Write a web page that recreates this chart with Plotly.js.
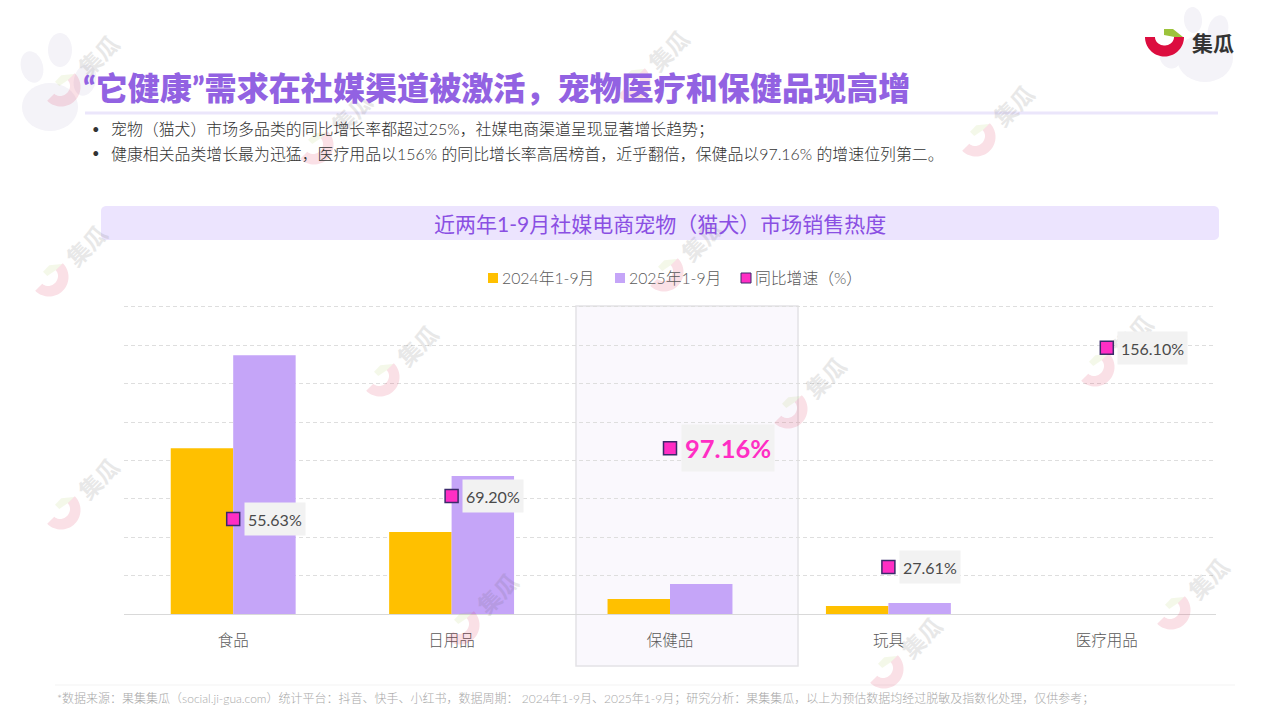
<!DOCTYPE html>
<html><head><meta charset="utf-8">
<script src="https://cdn.plot.ly/plotly-3.0.1.min.js"></script>
<style>html,body{margin:0;padding:0;background:#fff}#c{width:1280px;height:720px}</style>
</head><body><div id="c"></div>
<script>
var categories=["食品","日用品","保健品","玩具","医疗用品"];
var series2024=[4320,2135,390,208,0];
var series2025=[6745,3594,781,286,0];
var growth=[55.63,69.20,97.16,27.61,156.10];
var growthLabels=["55.63%","69.20%","97.16%","27.61%","156.10%"];
var names=["2024年1-9月","2025年1-9月","同比增速（%）"];
var titleText="“它健康”需求在社媒渠道被激活，宠物医疗和保健品现高增";
var bullets=["宠物（猫犬）市场多品类的同比增长率都超过25%，社媒电商渠道呈现显著增长趋势；","健康相关品类增长最为迅猛，医疗用品以156% 的同比增长率高居榜首，近乎翻倍，保健品以97.16% 的增速位列第二。"];
var chartTitle="近两年1-9月社媒电商宠物（猫犬）市场销售热度";
var sourceText="*数据来源：果集集瓜（social.ji-gua.com）统计平台：抖音、快手、小红书，数据周期： 2024年1-9月、2025年1-9月；研究分析：果集集瓜，以上为预估数据均经过脱敏及指数化处理，仅供参考；";
var FONT='Lato, "Noto Sans CJK SC", sans-serif', CJK='"Noto Sans CJK SC", sans-serif';
var L=124,R=1216,T=304,B=614;
function px(x){return (x-L)/(R-L);} function py(y){return (B-y)/(B-T);}
function pathOf(pts){return pts.map(function(p,i){return (i?'L':'M')+px(p[0]).toFixed(5)+','+py(p[1]).toFixed(5);}).join('')+'Z';}
function shapeOf(pts,fill,opacity,layer){return {type:'path',xref:'paper',yref:'paper',path:pathOf(pts),fillcolor:fill,line:{width:0},opacity:opacity==null?1:opacity,layer:layer||'above'};}
function ell(cx,cy,rx,ry,rot){var a=[],r=(rot||0)*Math.PI/180;for(var i=0;i<36;i++){var t=i*10*Math.PI/180,x=rx*Math.cos(t),y=ry*Math.sin(t);a.push([cx+x*Math.cos(r)-y*Math.sin(r),cy+x*Math.sin(r)+y*Math.cos(r)]);}return a;}
function rrect(x0,y0,x1,y1,r){var a=[];[[x1-r,y0+r,-90],[x1-r,y1-r,0],[x0+r,y1-r,90],[x0+r,y0+r,180]].forEach(function(c){for(var i=0;i<=6;i++){var t=(c[2]+15*i)*Math.PI/180;a.push([c[0]+r*Math.cos(t),c[1]+r*Math.sin(t)]);}});return a;}
function txt(x,y,text,size,color,anchor,extra){var a={xref:'paper',yref:'paper',x:px(x),y:py(y),text:text,showarrow:false,xanchor:anchor||'left',yanchor:'middle',font:{family:FONT,size:size,color:color}};for(var k in extra){a[k]=extra[k];}return a;}
// brand mark, drawn about its centre with optional rotation
function logo(cx,cy,rot,redOp,greenOp){
  var r=rot*Math.PI/180,red=[],i,t;
  function tr(p){return [cx+p[0]*Math.cos(r)-p[1]*Math.sin(r),cy+p[0]*Math.sin(r)+p[1]*Math.cos(r)];}
  for(i=0;i<=36;i++){t=i*5*Math.PI/180;red.push(tr([19.5*Math.cos(t),19.5*Math.sin(t)]));}
  for(i=36;i>=0;i--){t=i*5*Math.PI/180;red.push(tr([9.5*Math.cos(t),8.5*Math.sin(t)]));}
  var green=[[-0.5,-8],[8.5,-8],[18.5,0],[10,0],[-0.5,-2]].map(tr);
  return [shapeOf(red,'#dc0d3f',redOp),shapeOf(green,'#9cc33b',greenOp)];
}

var shapes=[],ann=[];
// paw prints behind the page
[[32,67,11,16,-15],[60,50,12,17,0],[85,80,11,16,15],[50,107,28,24,0],
 [1193,20,9,13,-5],[1218,30,10,15,15],[1205,58,28,24,0],[1170,57,10,12,-30]].forEach(function(e){shapes.push(shapeOf(ell(e[0],e[1],e[2],e[3],e[4]),'#f4f3f8',1,'below'));});
// highlight panel
shapes.push({type:'rect',xref:'paper',yref:'paper',x0:px(576),x1:px(798),y0:py(666),y1:py(306),fillcolor:'#faf8fd',line:{color:'#e4e2e6',width:1.5},layer:'below'});
// title rule, chart title band, footer rule
shapes.push(shapeOf([[85,111.5],[1218,111.5],[1218,114.5],[85,114.5]],'#ebe6fb',1,'below'));
shapes.push(shapeOf(rrect(101,206,1219,240,5),'#ece4fe',1,'below'));
shapes.push(shapeOf([[55,684.5],[1235,684.5],[1235,685.5],[55,685.5]],'#f3f3f3',1,'below'));
// logo
shapes=shapes.concat(logo(1164.5,37,0,1,1));
ann.push(txt(1212.5,42,'集瓜',21,'#333333','center',{font:{family:CJK,size:21,color:'#333333',weight:700}}));
// watermarks
[[98,55],[351,113],[668,50],[1013,105],[86,245],[701,240],[417,345],[825,377],[1132,335],[98,478],[497,593],[921,637],[1208,578]].forEach(function(w){
  shapes=shapes.concat(logo(w[0]-37,w[1]+32,-45,0.13,0.11));
  ann.push({xref:'paper',yref:'paper',x:px(w[0]),y:py(w[1]),xanchor:'center',yanchor:'middle',text:'集瓜',showarrow:false,textangle:-45,opacity:0.13,font:{family:CJK,size:23,color:'#555555',weight:700}});
});
// texts
ann.push(txt(81,87,titleText,32.1,'#9262e2','left',{font:{family:FONT,size:32.1,color:'#9262e2',weight:900}}));
bullets.forEach(function(b,i){var y=129+i*24;
  ann.push(txt(90,y,'•',13,'#333333','left'));
  ann.push(txt(109,y,b,15.9,'#333333','left',{font:{family:FONT,size:15.9,color:'#333333',weight:300}}));});
ann.push(txt(660,223,chartTitle,21,'#8a4fe3','center'));
ann.push(txt(55,698,sourceText,12,'#a8a8a8','left',{font:{family:FONT,size:12,color:'#a8a8a8',weight:300}}));
// legend
var legendColors=['#ffc000','#c5a5f8','#ff2ec4'],legendX=[488,615,741];
names.forEach(function(n,i){
  var x=legendX[i];
  shapes.push({type:'rect',xref:'paper',yref:'paper',x0:px(x),x1:px(x+10),y0:py(283),y1:py(273),fillcolor:legendColors[i],line:i==2?{color:'#3b2a6b',width:1}:{width:0},layer:'above'});
  ann.push(txt(x+12,277,n,15.8,'#595959','left',{font:{family:FONT,size:15.8,color:'#595959',weight:300}}));
});
// point labels
growthLabels.forEach(function(t,i){
  var hi=i===2;
  ann.push({xref:'x',yref:'y2',x:i,y:growth[i],text:t,showarrow:false,xanchor:'left',yanchor:'middle',xshift:hi?11:10.5,bgcolor:'#f2f2f2',borderpad:hi?3:3,height:hi?40:26,valign:'middle',
    font:{family:FONT,size:hi?25.5:16,color:hi?'#ff2ec4':'#4a4a4a',weight:hi?700:400}});
});
var traces=[
 {type:'bar',name:names[0],x:categories,y:series2024,marker:{color:'#ffc000'},hoverinfo:'x+y'},
 {type:'bar',name:names[1],x:categories,y:series2025,marker:{color:'#c5a5f8'},hoverinfo:'x+y'},
 {type:'scatter',mode:'markers',name:names[2],x:categories,y:growth,yaxis:'y2',marker:{symbol:'square',size:13,color:'#ff2ec4',line:{color:'#3b2a6b',width:1.5}}}
];
var layout={width:1280,height:720,margin:{l:L,r:1280-R,t:T,b:720-B,pad:0},paper_bgcolor:'#ffffff',plot_bgcolor:'rgba(0,0,0,0)',showlegend:false,
 barmode:'group',bargap:0.428,bargroupgap:0,font:{family:FONT},
 xaxis:{type:'category',range:[-0.5,4.5],showgrid:false,showline:true,linecolor:'#d9d9d9',linewidth:1,ticks:'',ticklabelstandoff:12,tickfont:{family:FONT,size:15.5,color:'#595959',weight:300},zeroline:false},
 yaxis:{range:[0,8078],tick0:0,dtick:1000,showticklabels:false,ticks:'',gridcolor:'#dedede',griddash:'4px,3px',gridwidth:1,zeroline:false},
 yaxis2:{overlaying:'y',side:'right',range:[0,181.76],showticklabels:false,showgrid:false,ticks:'',zeroline:false},
 shapes:shapes,annotations:ann};
Plotly.newPlot('c',traces,layout,{displayModeBar:false,staticPlot:true});
</script></body></html>
